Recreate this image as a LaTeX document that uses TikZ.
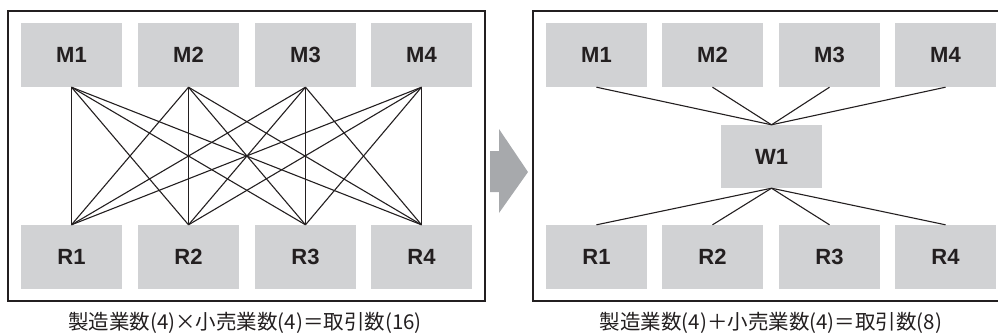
\documentclass[tikz,border=0pt]{standalone}
\usepackage{fontspec}
\newfontfamily\labfont{Liberation Sans}
\newfontfamily\cjk{Noto Sans CJK JP}
\definecolor{boxgray}{HTML}{D1D2D4}
\definecolor{arrowgray}{HTML}{A7A9AC}
\definecolor{ink}{HTML}{231F20}
\tikzset{
  cell/.style={fill=boxgray, draw=none, minimum width=101pt, minimum height=64pt, inner sep=0pt,
    font=\fontsize{22}{24}\labfont\bfseries\selectfont, text=ink},
  frame/.style={draw=ink, line width=1.8pt, fill=none, inner sep=0pt},
  link/.style={draw=ink, line width=1.1pt},
  caption/.style={font=\fontsize{20.5}{22}\cjk\selectfont, text=ink, inner sep=0pt}
}
\begin{document}
\begin{tikzpicture}[x=1pt,y=-1pt]
\useasboundingbox (0,0) rectangle (998,333);
\clip (0,0) rectangle (998,333);
% frames
\node[frame, minimum width=477pt, minimum height=290pt] (frameL) at (246.5,156) {};
\node[frame, minimum width=477pt, minimum height=290pt] (frameR) at (771.5,156) {};
% left boxes
\foreach \i/\x in {1/71.5,2/188.5,3/305.5,4/421.5}{
  \node[cell] (lM\i) at (\x,55) {M\i};
  \node[cell] (lR\i) at (\x,257) {R\i};
}
\foreach \i in {1,...,4}{
  \foreach \j in {1,...,4}{
    \draw[link] (lM\i.south) -- (lR\j.north);
  }
}
% arrow
\fill[arrowgray] (490,151) -- (499,151) -- (499,129) -- (528,172) -- (499,213) -- (499,192) -- (490,192) -- cycle;
% right boxes
\foreach \i/\x in {1/596.5,2/712.5,3/829.5,4/945.5}{
  \node[cell] (rM\i) at (\x,55) {M\i};
  \node[cell] (rR\i) at (\x,257) {R\i};
}
\node[cell, minimum height=63pt] (W1) at (771.5,156.5) {W1};
\foreach \i in {1,...,4}{
  \draw[link] (rM\i.south) -- (W1.north);
  \draw[link] (W1.south) -- (rR\i.north);
}
% captions
\node[caption] (capL) at (245,323) {製造業数(4)×小売業数(4)＝取引数(16)};
\node[caption] (capR) at (771,323) {製造業数(4)＋小売業数(4)＝取引数(8)};
\end{tikzpicture}
\end{document}
